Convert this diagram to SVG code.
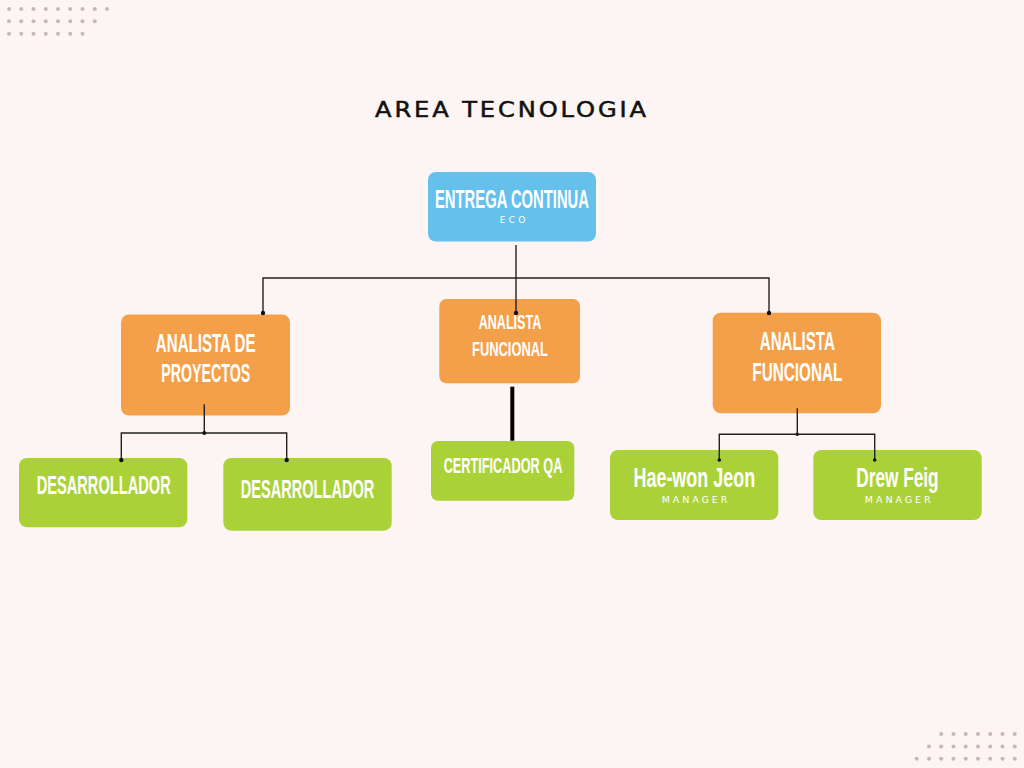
<svg xmlns="http://www.w3.org/2000/svg" width="1024" height="768" viewBox="0 0 1024 768">
<defs>
<style>
.bg{fill:#fdf5f3}
.dot{fill:#c6b8b8}
.blue{fill:#65c0eb}
.orange{fill:#f4a04a}
.green{fill:#aad238}
.lbl{font-family:"Liberation Sans",Arial,sans-serif;font-weight:bold;fill:#ffffff;text-anchor:middle}
.sub{font-family:"DejaVu Sans",sans-serif;fill:#ffffff;text-anchor:middle}
.title{font-family:"DejaVu Sans",sans-serif;fill:#111111;stroke:#111111;stroke-width:0.5;text-anchor:middle;font-size:21px;letter-spacing:2.5px}
.ln{fill:none;stroke:#222222;stroke-width:1.4}
.thick{fill:none;stroke:#000000;stroke-width:4}
.jd{fill:#111111}
</style>
</defs>
<rect class="bg" x="0" y="0" width="1024" height="768"/>
<g id="dots-top-left">
<circle class="dot" cx="9" cy="9" r="2"/><circle class="dot" cx="21.25" cy="9" r="2"/><circle class="dot" cx="33.5" cy="9" r="2"/><circle class="dot" cx="45.75" cy="9" r="2"/><circle class="dot" cx="58" cy="9" r="2"/><circle class="dot" cx="70.25" cy="9" r="2"/><circle class="dot" cx="82.5" cy="9" r="2"/><circle class="dot" cx="94.75" cy="9" r="2"/><circle class="dot" cx="107" cy="9" r="2"/>
<circle class="dot" cx="9" cy="21.3" r="2"/><circle class="dot" cx="21.25" cy="21.3" r="2"/><circle class="dot" cx="33.5" cy="21.3" r="2"/><circle class="dot" cx="45.75" cy="21.3" r="2"/><circle class="dot" cx="58" cy="21.3" r="2"/><circle class="dot" cx="70.25" cy="21.3" r="2"/><circle class="dot" cx="82.5" cy="21.3" r="2"/><circle class="dot" cx="94.75" cy="21.3" r="2"/>
<circle class="dot" cx="9" cy="33.7" r="2"/><circle class="dot" cx="21.25" cy="33.7" r="2"/><circle class="dot" cx="33.5" cy="33.7" r="2"/><circle class="dot" cx="45.75" cy="33.7" r="2"/><circle class="dot" cx="58" cy="33.7" r="2"/><circle class="dot" cx="70.25" cy="33.7" r="2"/><circle class="dot" cx="82.5" cy="33.7" r="2"/>
</g>
<g id="dots-bottom-right">
<circle class="dot" cx="941.2" cy="734" r="2"/><circle class="dot" cx="953.5" cy="734" r="2"/><circle class="dot" cx="965.7" cy="734" r="2"/><circle class="dot" cx="978" cy="734" r="2"/><circle class="dot" cx="990.2" cy="734" r="2"/><circle class="dot" cx="1002.5" cy="734" r="2"/><circle class="dot" cx="1014.7" cy="734" r="2"/>
<circle class="dot" cx="929" cy="746.5" r="2"/><circle class="dot" cx="941.2" cy="746.5" r="2"/><circle class="dot" cx="953.5" cy="746.5" r="2"/><circle class="dot" cx="965.7" cy="746.5" r="2"/><circle class="dot" cx="978" cy="746.5" r="2"/><circle class="dot" cx="990.2" cy="746.5" r="2"/><circle class="dot" cx="1002.5" cy="746.5" r="2"/><circle class="dot" cx="1014.7" cy="746.5" r="2"/>
<circle class="dot" cx="916.7" cy="758.7" r="2"/><circle class="dot" cx="929" cy="758.7" r="2"/><circle class="dot" cx="941.2" cy="758.7" r="2"/><circle class="dot" cx="953.5" cy="758.7" r="2"/><circle class="dot" cx="965.7" cy="758.7" r="2"/><circle class="dot" cx="978" cy="758.7" r="2"/><circle class="dot" cx="990.2" cy="758.7" r="2"/><circle class="dot" cx="1002.5" cy="758.7" r="2"/><circle class="dot" cx="1014.7" cy="758.7" r="2"/>
</g>
<text class="title" x="512" y="117.3" textLength="274" lengthAdjust="spacingAndGlyphs">AREA TECNOLOGIA</text>

<g id="n-entrega">
<rect class="blue" x="428" y="172" width="168" height="69.5" rx="8"/>
<text class="lbl" x="512" y="208.3" font-size="25" textLength="154" lengthAdjust="spacingAndGlyphs">ENTREGA CONTINUA</text>
<text class="sub" x="512.5" y="223.3" font-size="9" textLength="25.7" lengthAdjust="spacing">ECO</text>
</g>
<g id="n-proyectos">
<rect class="orange" x="121" y="314.5" width="169" height="101" rx="8"/>
<text class="lbl" x="205.7" y="351.7" font-size="25" textLength="99.7" lengthAdjust="spacingAndGlyphs">ANALISTA DE</text>
<text class="lbl" x="205.7" y="381.7" font-size="25" textLength="89" lengthAdjust="spacingAndGlyphs">PROYECTOS</text>
</g>
<g id="n-funcional-mid">
<rect class="orange" x="439.3" y="299" width="140.7" height="84.3" rx="7"/>
<text class="lbl" x="510" y="329.3" font-size="20" textLength="62.7" lengthAdjust="spacingAndGlyphs">ANALISTA</text>
<text class="lbl" x="510" y="355.7" font-size="20" textLength="76" lengthAdjust="spacingAndGlyphs">FUNCIONAL</text>
</g>
<g id="n-funcional-right">
<rect class="orange" x="712.7" y="312.7" width="168.3" height="100.6" rx="8"/>
<text class="lbl" x="797.3" y="350" font-size="25" textLength="75" lengthAdjust="spacingAndGlyphs">ANALISTA</text>
<text class="lbl" x="797.3" y="380.7" font-size="25" textLength="90" lengthAdjust="spacingAndGlyphs">FUNCIONAL</text>
</g>
<g id="n-desarrollador-1">
<rect class="green" x="19" y="458" width="168.3" height="69.3" rx="8"/>
<text class="lbl" x="103.7" y="494.3" font-size="25" textLength="134" lengthAdjust="spacingAndGlyphs">DESARROLLADOR</text>
</g>
<g id="n-desarrollador-2">
<rect class="green" x="223.3" y="458" width="168.4" height="72.7" rx="8"/>
<text class="lbl" x="307.5" y="497.7" font-size="25" textLength="133.7" lengthAdjust="spacingAndGlyphs">DESARROLLADOR</text>
</g>
<g id="n-certificador">
<rect class="green" x="431" y="441" width="143.3" height="59.7" rx="7"/>
<text class="lbl" x="503" y="472.7" font-size="22" textLength="118.7" lengthAdjust="spacingAndGlyphs">CERTIFICADOR QA</text>
</g>
<g id="n-haewon">
<rect class="green" x="610" y="450" width="168.3" height="70" rx="8"/>
<text class="lbl" x="694.3" y="486.7" font-size="27" textLength="121.7" lengthAdjust="spacingAndGlyphs">Hae-won Jeon</text>
<text class="sub" x="694.5" y="502.7" font-size="9.5" textLength="65.7" lengthAdjust="spacing">MANAGER</text>
</g>
<g id="n-drew">
<rect class="green" x="813.3" y="450" width="168.4" height="70" rx="8"/>
<text class="lbl" x="897.5" y="486.7" font-size="27" textLength="82.3" lengthAdjust="spacingAndGlyphs">Drew Feig</text>
<text class="sub" x="897.7" y="502.7" font-size="9.5" textLength="65.7" lengthAdjust="spacing">MANAGER</text>
</g>

<g id="connectors">
<path class="ln" d="M516 245 V313"/>
<path class="ln" d="M263 313 V278 H769 V313"/>
<circle class="jd" cx="263" cy="313" r="2.2"/>
<circle class="jd" cx="516" cy="313" r="2.2"/>
<circle class="jd" cx="769" cy="313" r="2.2"/>
<path class="ln" d="M204.3 404.3 V433"/>
<path class="ln" d="M121.3 460 V433 H286.7 V460"/>
<circle class="jd" cx="204.3" cy="433" r="2"/>
<circle class="jd" cx="121.3" cy="460" r="2.2"/>
<circle class="jd" cx="286.7" cy="460" r="2.2"/>
<path class="thick" d="M512.3 386.7 V440.7"/>
<path class="ln" d="M797.3 408.3 V434.3"/>
<path class="ln" d="M719.3 460 V434.3 H874.7 V460"/>
<circle class="jd" cx="797.3" cy="434.3" r="1.8"/>
<circle class="jd" cx="719.3" cy="460" r="1.8"/>
<circle class="jd" cx="874.7" cy="460" r="1.8"/>
</g>
</svg>
